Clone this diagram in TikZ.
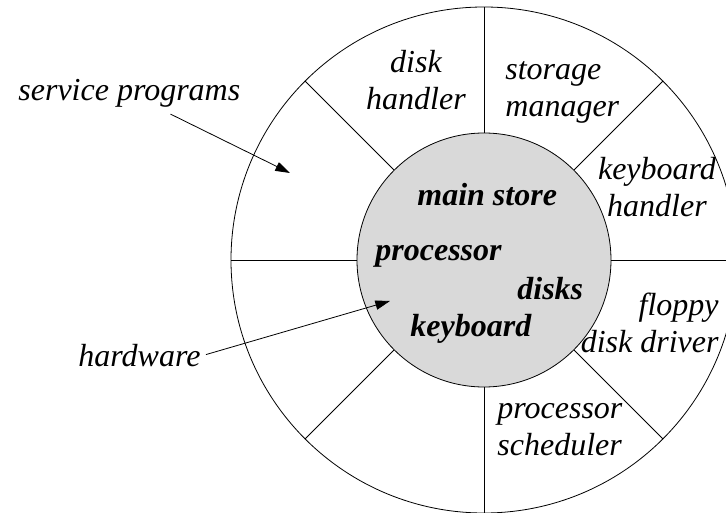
\documentclass[tikz,border=0pt]{standalone}
\usepackage{fontspec}
\setmainfont{Liberation Serif}
\usetikzlibrary{arrows.meta}

\tikzset{
  part/.style={font=\fontsize{24}{27.75}\selectfont\itshape, inner sep=0pt},
  core part/.style={part, font=\fontsize{24}{27.75}\selectfont\bfseries\itshape},
  pointer/.style={-{Triangle[length=11pt,width=7pt]}},
}

\begin{document}
\begin{tikzpicture}[x=0.75pt, y=-0.75pt, line width=0.6pt]
  \useasboundingbox (0,0) rectangle (726,513);
  \clip (0,0) rectangle (726,513);

  % the two rings and the spokes between them
  \node (ring) [draw, circle, minimum size=379.5pt, inner sep=0pt] at (484,260) {};
  \node (core) [draw, circle, fill=black!15, minimum size=190.5pt, inner sep=0pt] at (ring.center) {};
  \foreach \a in {0,45,...,315}
    \draw (core.\a) -- (ring.\a);

  % outer ring (base is the last line)
  \node (dh) [part, align=center, anchor=base] at (416,110) {disk\\handler};
  \node (sm) [part, align=left, anchor=base west] at (505,117) {storage\\manager};
  \node (kh) [part, align=center, anchor=base] at (657,217) {keyboard\\handler};
  \node (fd) [part, align=right, anchor=base east] at (719,353) {floppy\\disk driver};
  \node (ps) [part, align=left, anchor=base west] at (497,456) {processor\\scheduler};

  % inner circle
  \node (ms) [core part, anchor=base west] at (417,206) {main store};
  \node (pr) [core part, anchor=base west] at (375,261) {processor};
  \node (dk) [core part, anchor=base west] at (517,300) {disks};
  \node (kb) [core part, anchor=base west] at (410,337) {keyboard};

  % callouts
  \node (sp) [part, anchor=base west] at (18,101) {service programs};
  \node (hw) [part, anchor=base west] at (78,367) {hardware};
  \coordinate (sptip) at (290,173);
  \coordinate (hwtip) at (390,301);
  \draw [pointer, shorten <=10pt] (sp) -- (sptip);
  \draw [pointer, shorten <=4pt] (hw.east) -- (hwtip);
\end{tikzpicture}
\end{document}
